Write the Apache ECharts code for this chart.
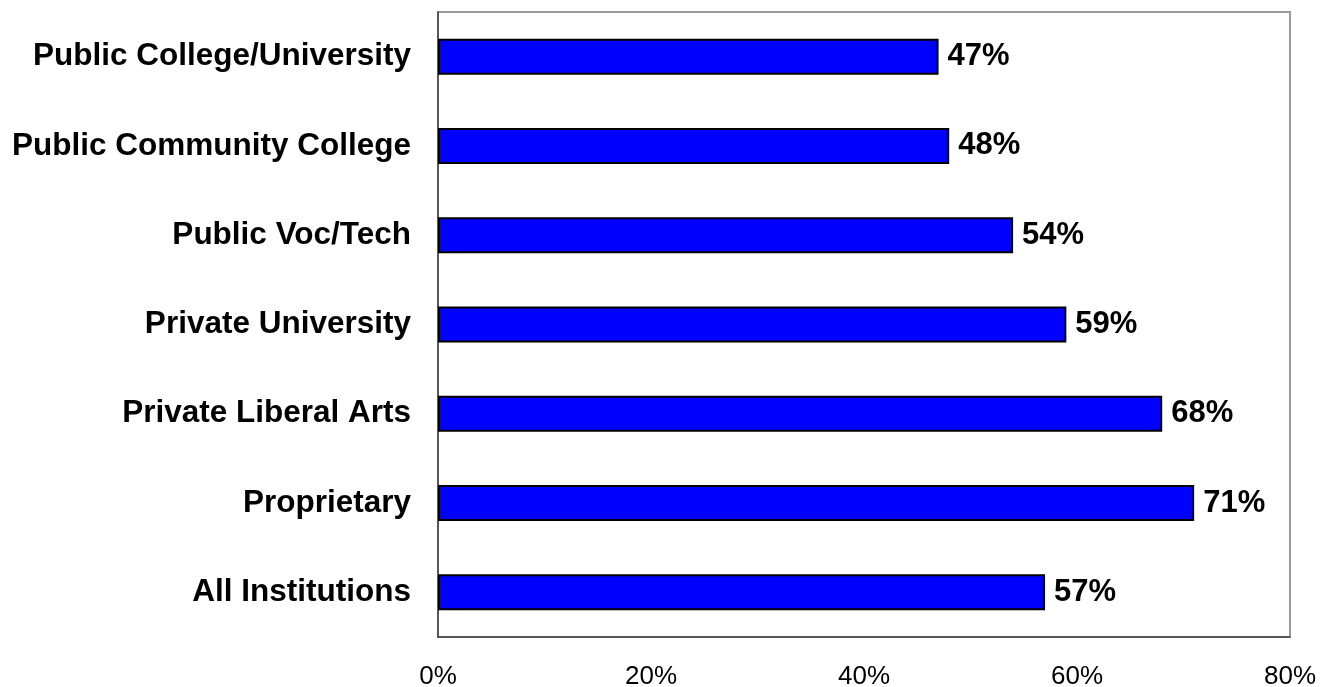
<!DOCTYPE html>
<html>
<head>
<meta charset="utf-8">
<script src="https://cdn.jsdelivr.net/npm/echarts@6/dist/echarts.min.js"></script>
<style>
  html, body { margin: 0; padding: 0; background: #ffffff; }
  #chart { width: 1321px; height: 687px; }
</style>
</head>
<body>
<div id="chart"></div>
<script>
// Institution types, listed top to bottom
const categories = [
  'Public College/University',
  'Public Community College',
  'Public Voc/Tech',
  'Private University',
  'Private Liberal Arts',
  'Proprietary',
  'All Institutions'
];
// Share per institution type, in percent
const shares = [47, 48, 54, 59, 68, 71, 57];
// Value axis range and step, in percent
const axisMin = 0;
const axisMax = 80;
const axisStep = 20;

const font = 'Arial, "Liberation Sans", Helvetica, sans-serif';
const chart = echarts.init(document.getElementById('chart'), null, { renderer: 'canvas' });

chart.setOption({
  animation: false,
  backgroundColor: '#ffffff',
  grid: {
    left: 438, top: 12, right: 31, bottom: 50,
    outerBoundsMode: 'none',
    containLabel: false,
    show: true,
    borderColor: '#9a9a9a',
    borderWidth: 2,
    backgroundColor: 'transparent'
  },
  xAxis: {
    type: 'value',
    min: axisMin,
    max: axisMax,
    interval: axisStep,
    axisLine: { show: true, lineStyle: { color: '#404040', width: 1.5 } },
    axisTick: { show: false },
    splitLine: { show: false },
    axisLabel: {
      formatter: '{value}%',
      color: '#000000',
      fontFamily: font,
      fontSize: 26,
      margin: 27
    }
  },
  yAxis: {
    type: 'category',
    data: categories,
    inverse: true,
    axisLine: { show: true, onZero: false, lineStyle: { color: '#404040', width: 1.5 } },
    axisTick: { show: false },
    splitLine: { show: false },
    axisLabel: {
      color: '#000000',
      fontFamily: font,
      fontSize: 31.5,
      fontWeight: 'bold',
      margin: 27,
      padding: [6, 0, 0, 0]
    }
  },
  series: [{
    type: 'bar',
    data: shares,
    barWidth: 36,
    itemStyle: { color: '#0000ff', borderColor: '#000000', borderWidth: 2 },
    label: {
      show: true,
      position: 'right',
      distance: 9,
      formatter: '{c}%',
      color: '#000000',
      fontFamily: font,
      fontSize: 31,
      fontWeight: 'bold',
      padding: [6, 0, 0, 0]
    }
  }]
});
</script>
</body>
</html>
